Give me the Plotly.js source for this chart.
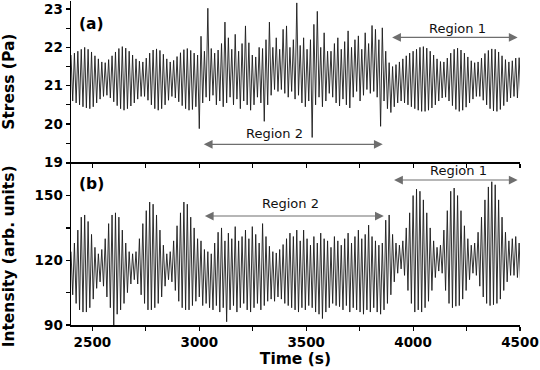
<!DOCTYPE html>
<html>
<head>
<meta charset="utf-8">
<script src="https://cdn.plot.ly/plotly-3.0.1.min.js"></script>
<style>
  html, body { margin: 0; padding: 0; background: #fff; }
  #chart { width: 540px; height: 370px; }
</style>
</head>
<body>
<div id="chart"></div>
<script>
(() => {
  "use strict";

  // extrema of each oscillation cycle (one cycle every 16 s from 2400 s)
  const cycleStart = 2400;
  const cycleStep = 16;

  const stressHi = [
    21.80, 21.85, 21.90, 21.95, 22.00, 21.95, 21.88, 21.78, 21.70, 21.62,
    21.60, 21.68, 21.78, 21.88, 21.97, 22.02, 21.98, 21.90, 21.80, 21.70,
    21.64, 21.62, 21.72, 21.85, 21.93, 21.96, 21.92, 21.82, 21.70, 21.62,
    21.66, 21.76, 21.86, 21.94, 21.97, 21.92, 21.85, 21.80,
    22.29, 21.90, 23.02, 21.97, 21.85, 21.93, 22.10, 22.66, 22.25, 21.95,
    22.34, 21.90, 22.10, 22.56, 22.12, 21.80, 21.75, 22.00, 21.97, 22.20,
    22.66, 22.00, 22.25, 21.95, 22.47, 22.56, 22.00, 22.20, 23.16, 22.05,
    22.25, 21.95, 22.20, 22.60, 22.94, 22.00, 22.38, 21.90, 21.90, 22.10,
    22.25, 21.95, 22.15, 22.43, 22.00, 22.20, 22.30, 21.95, 22.38, 22.10,
    22.57, 22.47, 22.20, 22.51, 21.90,
    21.60, 21.50, 21.55, 21.62, 21.70, 21.78, 21.85, 21.90, 21.95, 22.00,
    22.02, 21.98, 21.90, 21.80, 21.70, 21.63, 21.62, 21.72, 21.85, 21.95,
    21.98, 21.93, 21.85, 21.75, 21.65, 21.60, 21.62, 21.72, 21.84, 21.92,
    21.96, 21.95, 21.88, 21.78, 21.68, 21.62, 21.65, 21.72, 21.73
  ];
  const stressLo = [
    20.60, 20.55, 20.50, 20.45, 20.42, 20.40, 20.45, 20.55, 20.65, 20.72,
    20.75, 20.68, 20.58, 20.48, 20.40, 20.36, 20.40, 20.47, 20.55, 20.65,
    20.72, 20.72, 20.62, 20.50, 20.40, 20.36, 20.40, 20.50, 20.62, 20.72,
    20.68, 20.58, 20.48, 20.40, 20.36, 20.38, 20.45, 19.88,
    20.55, 20.70, 20.60, 20.75, 20.50, 20.60, 20.45, 20.55, 20.70, 20.50,
    20.65, 20.40, 20.60, 20.50, 20.36, 20.50, 20.70, 20.55, 20.07, 20.50,
    20.75, 20.90, 20.85, 20.90, 20.80, 20.70, 20.85, 20.65, 20.75, 20.55,
    20.45, 20.60, 19.65, 20.50, 20.70, 20.45, 20.60, 20.80, 20.70, 20.55,
    20.47, 20.65, 20.50, 20.42, 20.70, 20.85, 20.60, 20.75, 20.90, 20.80,
    20.85, 20.70, 19.94, 20.60, 20.40,
    20.30, 20.45, 20.55, 20.60, 20.55, 20.50, 20.45, 20.40, 20.36, 20.33,
    20.33, 20.36, 20.42, 20.50, 20.60, 20.68, 20.70, 20.60, 20.48, 20.38,
    20.33, 20.36, 20.44, 20.55, 20.65, 20.72, 20.72, 20.62, 20.50, 20.40,
    20.34, 20.33, 20.38, 20.48, 20.58, 20.68, 20.72, 20.68, 20.62
  ];

  const intensityHi = [
    124, 128, 134, 140, 141, 138, 132, 126, 123, 125,
    130, 137, 141, 142, 140, 134, 128, 124, 123, 124,
    130, 137, 143, 147, 146, 141, 134, 127, 123, 124,
    129, 136, 142, 147, 146, 140, 135, 130,
    129, 125, 124, 123, 128, 133, 135, 129, 132.6, 130,
    135.6, 129, 131, 134, 130, 135.6, 132, 128, 137, 131,
    126.5, 124, 123.4, 125, 127.3, 130, 132.6, 131, 134, 129,
    134, 130, 127, 131, 128, 132.6, 130, 129, 126, 131,
    129, 127, 130, 132.6, 128, 131, 134, 130, 132, 136.3,
    131, 129, 127, 128, 138.6,
    141, 132, 128, 127, 129, 135, 142, 150, 153, 152,
    148, 142, 135, 129, 126, 127, 134, 143, 152, 153.5,
    150, 143, 136, 130, 127, 128, 133, 140, 148, 154,
    156.4, 155, 148, 140, 133, 129, 130, 131, 128
  ];
  const intensityLo = [
    104, 100, 97, 96, 96, 98, 102, 107, 110, 108,
    103, 98, 90, 95, 97, 100, 105, 109, 111, 109,
    104, 100, 97, 97, 98, 100, 103, 108, 111, 110,
    106, 101, 98, 97, 97, 99, 101, 103,
    99, 100, 98, 97, 99, 96, 98, 91.5, 97, 99,
    96, 98, 100, 97, 96, 98, 100, 97, 99, 101,
    102, 101, 103, 102, 100, 99, 98, 97, 96, 98,
    97, 99, 98, 96, 95, 93, 96, 98, 100, 99,
    98.5, 97, 99, 96, 98, 97, 96, 95, 97, 96,
    98, 96, 95, 97, 100,
    104, 110, 114, 116, 113, 106, 100, 96, 97, 96,
    98, 101, 106, 112, 115, 114, 106, 100, 98, 98.7,
    99, 102, 106, 111, 114, 113, 108, 103, 100, 99,
    99.4, 100, 102, 106, 110, 113, 113, 112, 106
  ];

  const xTicks = [2500, 3000, 3500, 4000, 4500];
  const stressTicks = [19, 20, 21, 22, 23];
  const intensityTicks = [90, 120, 150];

  // region arrows [from, to, arrow level, label x, label y]
  const regionsStress = [
    { name: "Region 1", x0: 3895, x1: 4489, y: 22.26, tx: 4208, ty: 22.5 },
    { name: "Region 2", x0: 3014, x1: 3858, y: 19.47, tx: 3353, ty: 19.74 }
  ];
  const regionsIntensity = [
    { name: "Region 1", x0: 3904, x1: 4489, y: 157.2, tx: 4211, ty: 161.4 },
    { name: "Region 2", x0: 3019, x1: 3863, y: 140.5, tx: 3428, ty: 146.1 }
  ];

  function zigzag(hi, lo) {
    const x = [], y = [];
    for (let i = 0; i < hi.length; i++) {
      x.push(cycleStart + i * cycleStep, cycleStart + i * cycleStep + cycleStep / 2);
      y.push(hi[i], lo[i]);
    }
    return { x, y };
  }

  const s = zigzag(stressHi, stressLo);
  const n = zigzag(intensityHi, intensityLo);

  const lineStyle = { color: "#1c1c1c", width: 0.9 };
  const data = [
    { type: "scatter", mode: "lines", x: s.x, y: s.y, xaxis: "x2", yaxis: "y",
      line: lineStyle, hoverinfo: "skip", showlegend: false },
    { type: "scatter", mode: "lines", x: n.x, y: n.y, xaxis: "x", yaxis: "y2",
      line: lineStyle, hoverinfo: "skip", showlegend: false }
  ];

  const bold = { family: "DejaVu Sans", size: 13.5, color: "#000", weight: "bold" };
  const titleFont = { family: "DejaVu Sans", size: 15.5, color: "#000", weight: "bold" };
  const plain = { family: "DejaVu Sans", size: 13, color: "#111" };

  const axisBase = {
    showline: true, linecolor: "#000", linewidth: 1.5,
    showgrid: false, zeroline: false, ticklen: 4, tickwidth: 1.2, tickcolor: "#000"
  };
  const xBase = Object.assign({}, axisBase, {
    range: [2400, 4500], tickvals: xTicks
  });

  const layout = {
    width: 540, height: 370,
    margin: { l: 71, r: 20, t: 1, b: 45 },
    paper_bgcolor: "#fff", plot_bgcolor: "#fff",
    showlegend: false,
    xaxis: Object.assign({}, xBase, {
      anchor: "y2", ticks: "outside", tickfont: bold,
      minor: { tickvals: [2750, 3250, 3750, 4250], ticks: "outside", ticklen: 4 },
      title: { text: "Time (s)", font: titleFont, standoff: 2 }
    }),
    xaxis2: Object.assign({}, xBase, {
      anchor: "y", matches: "x", ticks: "outside", showticklabels: false,
      minor: { tickvals: [2750, 3250, 3750, 4250], ticks: "outside", ticklen: 4 }
    }),
    xaxis3: Object.assign({}, xBase, {
      anchor: "y", overlaying: "x2", side: "top", ticks: "inside", showticklabels: false,
      minor: { tickvals: [2750, 3250, 3750, 4250], ticks: "inside", ticklen: 4 }
    }),
    yaxis: Object.assign({}, axisBase, {
      domain: [0.502, 1], anchor: "x2", range: [19, 23.21],
      tickvals: stressTicks, ticks: "outside", tickfont: bold,
      minor: { dtick: 0.5, ticks: "outside", ticklen: 4 }
    }),
    yaxis3: Object.assign({}, axisBase, {
      anchor: "x2", overlaying: "y", side: "right", range: [19, 23.21],
      tickvals: stressTicks, ticks: "inside", showticklabels: false,
      minor: { dtick: 0.5, ticks: "inside", ticklen: 4 }
    }),
    yaxis2: Object.assign({}, axisBase, {
      domain: [0, 0.502], anchor: "x", range: [90, 165.4],
      tickvals: intensityTicks, ticks: "outside", tickfont: bold,
      minor: { dtick: 15, ticks: "outside", ticklen: 4 }
    }),
    yaxis4: Object.assign({}, axisBase, {
      anchor: "x", overlaying: "y2", side: "right", range: [90, 165.4],
      tickvals: intensityTicks, ticks: "inside", showticklabels: false,
      minor: { dtick: 15, ticks: "inside", ticklen: 4 }
    }),
    annotations: []
  };

  function addRegions(list, xref, yref) {
    list.forEach(r => {
      layout.annotations.push({
        xref, yref, axref: xref, ayref: yref,
        x: r.x1, y: r.y, ax: r.x0, ay: r.y, text: "",
        showarrow: true, arrowside: "end+start", arrowhead: 2, startarrowhead: 2,
        arrowsize: 1.6, startarrowsize: 1.6, arrowwidth: 1.1, arrowcolor: "#6e6e6e",
        standoff: 0, startstandoff: 0
      });
      layout.annotations.push({
        xref, yref, x: r.tx, y: r.ty, text: r.name, showarrow: false,
        font: plain, xanchor: "center", yanchor: "middle"
      });
    });
  }
  addRegions(regionsStress, "x2", "y");
  addRegions(regionsIntensity, "x", "y2");

  // panel letters and the rotated axis titles
  layout.annotations.push(
    { xref: "paper", yref: "paper", x: 0.046, y: 0.929, text: "(a)", showarrow: false,
      font: titleFont, xanchor: "center", yanchor: "middle" },
    { xref: "paper", yref: "paper", x: 0.046, y: 0.435, text: "(b)", showarrow: false,
      font: titleFont, xanchor: "center", yanchor: "middle" },
    { xref: "paper", yref: "paper", x: -0.138, y: 0.751, text: "Stress (Pa)", showarrow: false,
      textangle: -90, font: titleFont, xanchor: "center", yanchor: "middle" },
    { xref: "paper", yref: "paper", x: -0.138, y: 0.212, text: "Intensity (arb. units)", showarrow: false,
      textangle: -90, font: titleFont, xanchor: "center", yanchor: "middle" }
  );

  Plotly.newPlot("chart", data, layout, { displayModeBar: false, staticPlot: true });
})();
</script>
</body>
</html>
